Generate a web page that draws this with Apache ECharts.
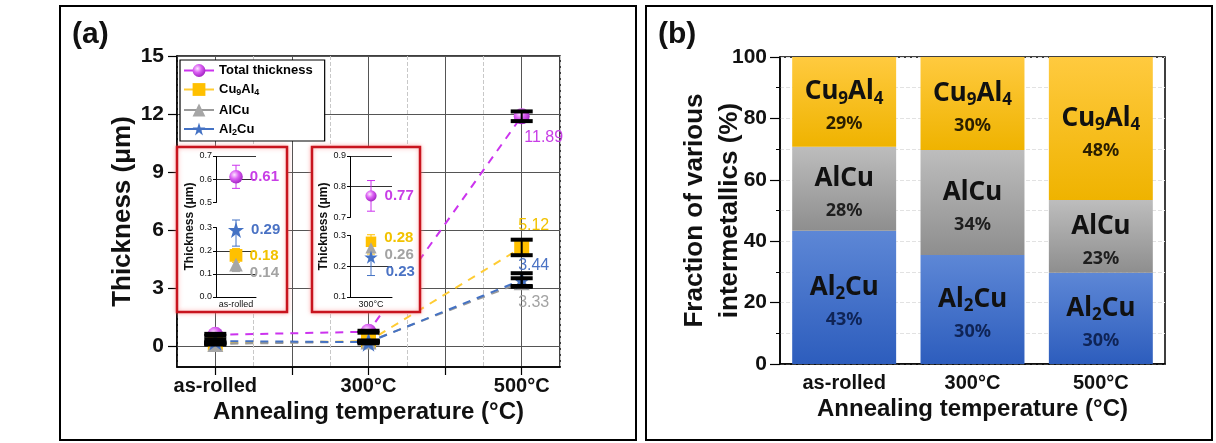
<!DOCTYPE html>
<html><head><meta charset="utf-8">
<script src="https://cdn.jsdelivr.net/npm/echarts@6.0.0/dist/echarts.min.js"></script>
<style>html,body{margin:0;padding:0;background:#fff}#c{width:1216px;height:443px}</style>
</head><body><div id="c"></div>
<script>
// ---------------- data ----------------
const categories = ['as-rolled', '300°C', '500°C'];
const seriesNames = ['Total thickness', 'Cu9Al4', 'AlCu', 'Al2Cu'];
const totalThickness = [0.61, 0.77, 11.89];
const cu9al4Thickness = [0.18, 0.28, 5.12];
const alcuThickness = [0.14, 0.26, 3.33];
const al2cuThickness = [0.29, 0.23, 3.44];
const totalErr = [0.05, 0.05, 0.25];
const cu9al4Err = [0.03, 0.04, 0.40];
const alcuErr = [0.03, 0.03, 0.20];
const al2cuErr = [0.07, 0.06, 0.35];
const thicknessTicks = [0, 3, 6, 9, 12, 15];
const tempTicks = [0, 0.5, 1, 1.5, 2];
const tempLabelTicks = [0, 1, 2];
// panel (b): drawn segment heights and printed percentages
const al2cuFraction = [43.4, 35.5, 29.7];
const alcuFraction = [27.4, 34.2, 23.7];
const cu9al4Fraction = [29.2, 30.3, 46.6];
const al2cuPct = [43, 30, 30];
const alcuPct = [28, 34, 23];
const cu9al4Pct = [29, 30, 48];

// ---------------- styles ----------------
const FONT = '"Liberation Sans", Arial, sans-serif';
const COL = { total: '#cc33ee', cu9: '#ffc000', alcu: '#a6a6a6', al2: '#4472c4' };
const LABCOL = { total: '#c83ee6', cu9: '#f2c200', alcu: '#a3a3a3', al2: '#4a72c4' };
const STAR = 'path://M50,2 L61.8,37.6 L99,37.6 L69,59.6 L80.4,95 L50,73 L19.6,95 L31,59.6 L1,37.6 L38.2,37.6 Z';
const sphere = { type: 'radial', x: 0.38, y: 0.35, r: 0.7, colorStops: [
  { offset: 0, color: '#fde6ff' }, { offset: 0.45, color: '#db5ff3' }, { offset: 1, color: '#9d1fbf' }] };

function richName(name, n, s) {
  return name.replace(/(\D+)|(\d+)/g, (m, a, d) => a ? '{' + n + '|' + a + '}' : '{' + s + '|' + d + '}');
}

const specs = [
  { name: seriesNames[0], vals: totalThickness, err: totalErr, symbol: 'circle', size: 16, color: sphere, line: COL.total, lab: LABCOL.total, off: [22, 21], inOff: [[0, 0], [0, 0]] },
  { name: seriesNames[1], vals: cu9al4Thickness, err: cu9al4Err, symbol: 'rect', size: 15, color: COL.cu9, line: '#ffcc33', lab: LABCOL.cu9, off: [12, -22], inOff: [[0, 0], [0, -4]] },
  { name: seriesNames[2], vals: alcuThickness, err: alcuErr, symbol: 'triangle', size: 16, color: COL.alcu, line: '#9a9a9a', lab: LABCOL.alcu, off: [12, 20], inOff: [[0, 8], [0, 7]] },
  { name: seriesNames[3], vals: al2cuThickness, err: al2cuErr, symbol: STAR, size: 19, color: COL.al2, line: COL.al2, lab: LABCOL.al2, off: [12, -14], inOff: [[0, 0], [0, 15]] }
];

function errorRender(capW, capLW, stemLW, color) {
  return function (params, api) {
    const x = api.value(0), lo = api.value(1), hi = api.value(2);
    const a = api.coord([x, lo]), b = api.coord([x, hi]);
    const st = { stroke: color, lineWidth: capLW };
    return { type: 'group', children: [
      { type: 'line', shape: { x1: a[0], y1: a[1], x2: b[0], y2: b[1] }, style: { stroke: color, lineWidth: stemLW } },
      { type: 'line', shape: { x1: a[0] - capW / 2, y1: a[1], x2: a[0] + capW / 2, y2: a[1] }, style: st },
      { type: 'line', shape: { x1: b[0] - capW / 2, y1: b[1], x2: b[0] + capW / 2, y2: b[1] }, style: st }
    ] };
  };
}

const series = [];
// main panel lines
specs.forEach(s => {
  series.push({
    type: 'line', name: s.name, xAxisIndex: 0, yAxisIndex: 0, z: 3,
    symbol: s.symbol, symbolSize: s.size,
    itemStyle: { color: s.color, borderWidth: 0 },
    lineStyle: { color: s.line, width: 2, type: [8, 7] },
    data: s.vals.map((v, i) => i === 2 ? { value: [i, v], label: {
      show: true, position: 'inside', offset: s.off, formatter: String(v),
      color: s.lab, fontSize: 16, fontFamily: FONT } } : [i, v])
  });
});
// main panel error bars
specs.forEach(s => {
  series.push({
    type: 'custom', name: s.name + ' error', xAxisIndex: 0, yAxisIndex: 0, z: 4,
    renderItem: errorRender(22, 4, 2, '#000'), encode: { x: 0, y: [1, 2] },
    data: s.vals.map((v, i) => [i, v - s.err[i], v + s.err[i]])
  });
});
// insets
[0, 1].forEach(k => {
  specs.forEach(s => {
    series.push({
      type: 'custom', name: s.name + ' inset err ' + k, xAxisIndex: k + 1, yAxisIndex: k + 1, z: 70,
      renderItem: errorRender(8, 1, 1, typeof s.color === 'string' ? s.color : COL.total), encode: { x: 0, y: [1, 2] },
      data: [[0, s.vals[k] - s.err[k], s.vals[k] + s.err[k]]]
    });
  });
  specs.forEach(s => {
    series.push({
      type: 'scatter', name: s.name + ' inset ' + k, xAxisIndex: k + 1, yAxisIndex: k + 1, z: 71,
      symbol: s.symbol, symbolSize: k === 0 ? s.size * 0.85 : s.size * 0.7,
      itemStyle: { color: s.color, opacity: 1 },
      label: { show: true, position: 'right', distance: k === 0 ? 7 : 8, offset: s.inOff[k],
        formatter: p => s.vals[k].toFixed(2), color: s.lab, fontSize: 15, fontWeight: 'bold', fontFamily: FONT },
      data: [[0, s.vals[k]]]
    });
  });
});
// panel (b) stacked bars
const barSpecs = [
  { name: 'Al2Cu fraction', label: 'Al2Cu', vals: al2cuFraction, pct: al2cuPct, top: '#5d87d6', bot: '#2d5dbd', pcol: '#0f2456' },
  { name: 'AlCu fraction', label: 'AlCu', vals: alcuFraction, pct: alcuPct, top: '#bdbdbd', bot: '#8e8e8e', pcol: '#1e1e1e' },
  { name: 'Cu9Al4 fraction', label: 'Cu9Al4', vals: cu9al4Fraction, pct: cu9al4Pct, top: '#ffca3f', bot: '#efb300', pcol: '#2a1e00' }
];
barSpecs.forEach(b => {
  series.push({
    type: 'bar', name: b.name, xAxisIndex: 3, yAxisIndex: 3, stack: 'frac', barWidth: '81%',
    itemStyle: { color: { type: 'linear', x: 0, y: 0, x2: 0, y2: 1, colorStops: [
      { offset: 0, color: b.top }, { offset: 1, color: b.bot }] } },
    label: { show: true, position: 'inside', offset: [0, 6],
      formatter: p => richName(b.label, 'n', 's') + '\n{p|' + b.pct[p.dataIndex] + '%}',
      rich: {
        n: { fontSize: 26, fontWeight: 'bold', color: '#111', lineHeight: 32, fontFamily: '"Noto Sans", sans-serif' },
        s: { fontSize: 17, fontWeight: 'bold', color: '#111', padding: [14, 0, 0, 0], fontFamily: '"Noto Sans", sans-serif' },
        p: { fontSize: 18, fontWeight: 'bold', color: b.pcol, lineHeight: 32, fontFamily: '"Noto Sans", sans-serif' }
      } },
    data: b.vals
  });
});

const axisLineBlack = { show: true, onZero: false, lineStyle: { color: '#000', width: 1.5 } };
const bigLabel = { color: '#111', fontSize: 20, fontWeight: 'bold', fontFamily: FONT };

const option = {
  animation: false,
  backgroundColor: '#fff',
  textStyle: { fontFamily: FONT },
  grid: [
    { left: 177, top: 56, width: 383, height: 311, show: true, borderColor: '#000', borderWidth: 1.5, backgroundColor: 'transparent' },
    { left: 216, top: 156, width: 40, height: 141 },
    { left: 350, top: 156, width: 42, height: 141 },
    { left: 780, top: 57, width: 385, height: 307, show: true, borderColor: '#000', borderWidth: 1.5, backgroundColor: 'transparent' }
  ],
  legend: {
    data: seriesNames, left: 180, top: 60, orient: 'vertical',
    backgroundColor: '#fff', borderColor: '#000', borderWidth: 1.2, borderRadius: 0,
    padding: [4, 12, 4, 3], itemGap: 6, itemWidth: 30, itemHeight: 16, z: 30,
    lineStyle: { type: 'solid', width: 2 },
    formatter: n => richName(n, 'n', 's'),
    textStyle: { rich: {
      n: { fontSize: 13, fontWeight: 'bold', color: '#000', fontFamily: FONT },
      s: { fontSize: 9, fontWeight: 'bold', color: '#000', padding: [7, 0, 0, 0], fontFamily: FONT } } }
  },
  xAxis: [
    { type: 'value', gridIndex: 0, min: -0.25, max: 2.25,
      name: 'Annealing temperature (°C)', nameLocation: 'middle', nameGap: 33, nameMoveOverlap: false,
      nameTextStyle: { fontSize: 24, fontWeight: 'bold', color: '#111', fontFamily: FONT },
      axisLine: axisLineBlack,
      axisTick: { show: true, length: 8, customValues: tempTicks, lineStyle: { color: '#000', width: 1.2 } },
      axisLabel: { ...bigLabel, fontSize: 20, margin: 9, customValues: tempLabelTicks,
        formatter: v => categories[Math.round(v)] || '' },
      splitLine: { show: true, lineStyle: { color: '#555', width: 1 } } },
    { type: 'category', gridIndex: 1, data: [categories[0]], z: 60,
      axisLine: { lineStyle: { color: '#000', width: 1 } }, axisTick: { alignWithLabel: true, length: 3, lineStyle: { color: '#000' } },
      axisLabel: { fontSize: 9, color: '#111', margin: 3, fontFamily: FONT } },
    { type: 'category', gridIndex: 2, data: [categories[1]], z: 60,
      axisLine: { lineStyle: { color: '#000', width: 1 } }, axisTick: { alignWithLabel: true, length: 3, lineStyle: { color: '#000' } },
      axisLabel: { fontSize: 9, color: '#111', margin: 3, fontFamily: FONT } },
    { type: 'category', gridIndex: 3, data: categories,
      name: 'Annealing temperature (°C)', nameLocation: 'middle', nameGap: 33, nameMoveOverlap: false,
      nameTextStyle: { fontSize: 24, fontWeight: 'bold', color: '#111', fontFamily: FONT },
      axisLine: axisLineBlack, axisTick: { alignWithLabel: true, length: 6, lineStyle: { color: '#000' } },
      axisLabel: { ...bigLabel, fontSize: 20, margin: 9 } },
    // helper axis: its ticks counted from min give the light dashed quarter lines
    { type: 'value', gridIndex: 0, min: -0.25, max: 2.25, interval: 0.5, position: 'bottom',
      axisLine: { show: false }, axisTick: { show: false }, axisLabel: { show: false },
      splitLine: { show: true, lineStyle: { color: '#c8c8c8', type: 'dashed', width: 1 } } }
  ],
  yAxis: [
    { type: 'value', gridIndex: 0, min: -1.05, max: 15,
      name: 'Thickness (μm)', nameLocation: 'middle', nameGap: 41, nameMoveOverlap: false,
      nameTextStyle: { fontSize: 26, fontWeight: 'bold', color: '#111', fontFamily: FONT },
      axisLine: axisLineBlack,
      axisTick: { show: true, length: 9, customValues: thicknessTicks, lineStyle: { color: '#000', width: 1.2 } },
      axisLabel: { ...bigLabel, fontSize: 21, margin: 13, customValues: thicknessTicks, formatter: v => String(v) },
      splitLine: { show: true, lineStyle: { color: '#555', width: 1 } } },
    { type: 'value', gridIndex: 1, min: 0, max: 0.7, interval: 0.1, z: 60,
      breaks: [{ start: 0.3, end: 0.5, gap: '18%' }], breakArea: { show: false },
      name: 'Thickness (μm)', nameLocation: 'middle', nameGap: 20, nameMoveOverlap: false,
      nameTextStyle: { fontSize: 12, fontWeight: 'bold', color: '#111', fontFamily: FONT },
      axisLine: { show: true, lineStyle: { color: '#000', width: 1 } }, axisTick: { show: true, length: 3, lineStyle: { color: '#000' } },
      axisLabel: { fontSize: 9, color: '#111', margin: 4, fontFamily: FONT, formatter: v => v.toFixed(1) },
      splitLine: { show: true, lineStyle: { color: '#333', width: 1 } } },
    { type: 'value', gridIndex: 2, min: 0.1, max: 0.9, interval: 0.1, z: 60,
      breaks: [{ start: 0.3, end: 0.7, gap: '13%' }], breakArea: { show: false },
      name: 'Thickness (μm)', nameLocation: 'middle', nameGap: 20, nameMoveOverlap: false,
      nameTextStyle: { fontSize: 12, fontWeight: 'bold', color: '#111', fontFamily: FONT },
      axisLine: { show: true, lineStyle: { color: '#000', width: 1 } }, axisTick: { show: true, length: 3, lineStyle: { color: '#000' } },
      axisLabel: { fontSize: 9, color: '#111', margin: 4, fontFamily: FONT, formatter: v => v.toFixed(1) },
      splitLine: { show: true, lineStyle: { color: '#333', width: 1 } } },
    { type: 'value', gridIndex: 3, min: 0, max: 100, interval: 20,
      name: 'Fraction of various\nintermetallics (%)', nameLocation: 'middle', nameGap: 33, nameMoveOverlap: false,
      nameTextStyle: { fontSize: 26, fontWeight: 'bold', color: '#111', lineHeight: 35, fontFamily: FONT },
      axisLine: axisLineBlack, axisTick: { show: true, length: 10, lineStyle: { color: '#000', width: 1.2 } },
      minorTick: { show: true, splitNumber: 2, length: 4, lineStyle: { color: '#000' } },
      axisLabel: { ...bigLabel, fontSize: 21, margin: 13 },
      splitLine: { show: true, lineStyle: { color: '#e2e2e2', width: 1, type: 'dashed' } },
      minorSplitLine: { show: true, lineStyle: { color: '#e2e2e2', width: 1, type: 'dashed' } } }
  ],
  graphic: [
    { type: 'rect', z: 1, shape: { x: 60, y: 6, width: 576, height: 434 }, style: { fill: 'none', stroke: '#000', lineWidth: 2 } },
    { type: 'rect', z: 1, shape: { x: 646, y: 6, width: 566, height: 434 }, style: { fill: 'none', stroke: '#000', lineWidth: 2 } },
    { type: 'text', z: 1, x: 72, y: 20, style: { text: '(a)', fontSize: 30, fontWeight: 'bold', fill: '#111', fontFamily: FONT } },
    { type: 'text', z: 1, x: 658, y: 20, style: { text: '(b)', fontSize: 30, fontWeight: 'bold', fill: '#111', fontFamily: FONT } },
    { type: 'rect', z: 50, shape: { x: 177, y: 147, width: 110, height: 165 },
      style: { fill: '#fff', stroke: '#c8141e', lineWidth: 2.5, shadowBlur: 4, shadowColor: 'rgba(255,120,120,0.6)' } },
    { type: 'rect', z: 50, shape: { x: 312, y: 147, width: 108, height: 165 },
      style: { fill: '#fff', stroke: '#c8141e', lineWidth: 2.5, shadowBlur: 4, shadowColor: 'rgba(255,120,120,0.6)' } }
  ],
  series: series
};

const chart = echarts.init(document.getElementById('c'), null, { renderer: 'canvas' });
chart.setOption(option);
</script>
</body></html>
